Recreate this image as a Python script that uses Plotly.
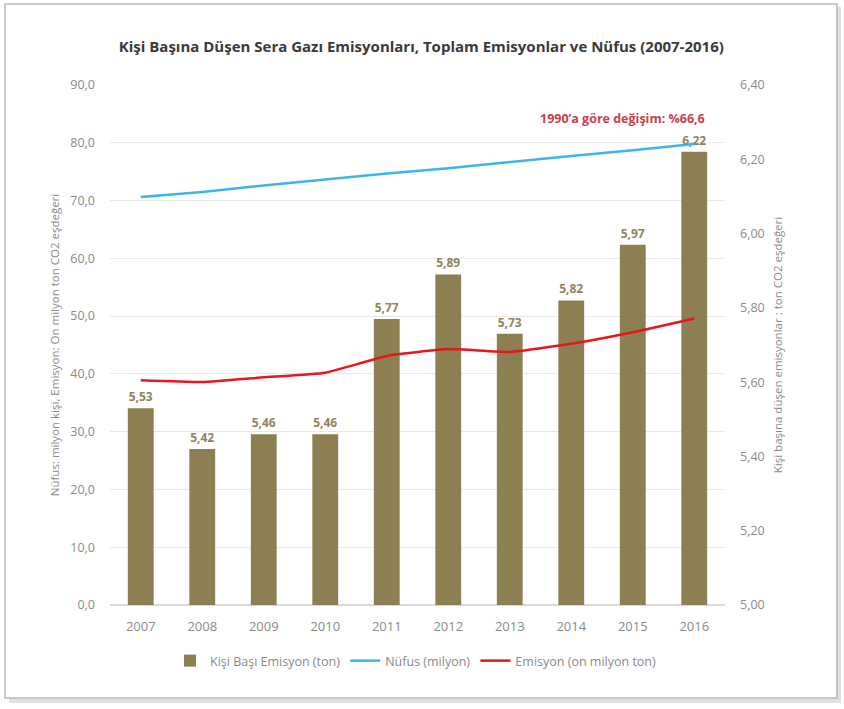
import plotly.graph_objects as go

# Data
years = ["2007", "2008", "2009", "2010", "2011", "2012", "2013", "2014", "2015", "2016"]
per_capita = [5.53, 5.42, 5.46, 5.46, 5.77, 5.89, 5.73, 5.82, 5.97, 6.22]      # ton CO2 eq / person
population = [70.6, 71.5, 72.6, 73.7, 74.7, 75.6, 76.7, 77.7, 78.7, 79.8]      # million
emissions = [38.9, 38.6, 39.4, 40.2, 43.1, 44.3, 43.8, 45.2, 47.2, 49.6]       # ten-million ton

W, H = 844, 709
L, R, T, B = 110, 119, 85, 104
PW, PH = W - L - R, H - T - B


def px_x(x):
    return (x - L) / PW


def px_y(y):
    return (H - B - y) / PH


OLIVE = "#8C7F52"
BLUE = "#3DB5E8"
RED = "#E8151B"
GRAY = "#8a8a8a"
FONT = "Open Sans"

fig = go.Figure()

fig.add_trace(go.Bar(
    x=years, y=per_capita, yaxis="y", name="Kişi Başı Emisyon (ton)",
    marker=dict(color=OLIVE, line=dict(width=0)), width=0.42,
    text=[f"{v:.2f}".replace(".", ",") for v in per_capita],
    textposition="outside", cliponaxis=False,
    textfont=dict(family=FONT, size=12, color="#8f845e", weight="bold"),
))
fig.add_trace(go.Scatter(
    x=years, y=population, yaxis="y2", name="Nüfus (milyon)", mode="lines",
    line=dict(color=BLUE, width=2.5),
))
fig.add_trace(go.Scatter(
    x=years, y=emissions, yaxis="y2", name="Emisyon (on milyon ton)", mode="lines",
    line=dict(color=RED, width=2.5, shape="spline", smoothing=0.4),
))

# Frame with a soft shadow
shapes = [
    dict(type="rect", xref="paper", yref="paper",
         x0=px_x(9), x1=px_x(841), y0=px_y(703), y1=px_y(7),
         line=dict(width=0), fillcolor="rgba(0,0,0,0.12)", layer="below"),
    dict(type="rect", xref="paper", yref="paper",
         x0=px_x(5), x1=px_x(837), y0=px_y(698), y1=px_y(4),
         line=dict(color="#b8b8b8", width=1.5), fillcolor="white", layer="below"),
]

fig.update_layout(
    width=W, height=H,
    margin=dict(l=L, r=R, t=T, b=B),
    paper_bgcolor="white", plot_bgcolor="rgba(0,0,0,0)",
    separators=",.",
    font=dict(family=FONT, size=12, color=GRAY),
    showlegend=True,
    legend=dict(orientation="h", x=px_x(416), xanchor="center", y=px_y(661), yanchor="middle",
                font=dict(family=FONT, size=12.5, color=GRAY), itemwidth=30,
                traceorder="normal"),
    title=dict(text="Kişi Başına Düşen Sera Gazı Emisyonları, Toplam Emisyonlar ve Nüfus (2007-2016)",
               x=px_x(417), xanchor="center", y=1 - 47 / H, yanchor="middle",
               font=dict(family=FONT, size=15, color="#3a3a3a", weight="bold")),
    xaxis=dict(type="category", showgrid=False, showline=False, ticks="",
               ticklabelstandoff=12, tickfont=dict(size=13, color=GRAY)),
    yaxis=dict(side="right", range=[5.0, 6.4], tickvals=[5.0, 5.2, 5.4, 5.6, 5.8, 6.0, 6.2, 6.4],
               tickformat=".2f", showgrid=False, zeroline=False, showline=False,
               ticklabelstandoff=14, tickfont=dict(size=12.5, color=GRAY),
               title=dict(text="Kişi başına düşen emisyonlar : ton CO2 eşdeğeri",
                          font=dict(size=11.5, color=GRAY), standoff=10)),
    yaxis2=dict(side="left", overlaying="y", range=[0, 90], tickvals=list(range(0, 91, 10)),
                tickformat=".1f", showgrid=True, gridcolor="#e8e8e8", gridwidth=1,
                zeroline=True, zerolinecolor="#d9d9d9", showline=False,
                ticklabelstandoff=14, tickfont=dict(size=12.5, color=GRAY),
                title=dict(text="Nüfus: milyon kişi, Emisyon: On milyon ton CO2 eşdeğeri",
                           font=dict(size=11.5, color=GRAY), standoff=8)),
    shapes=shapes,
    annotations=[dict(text="1990’a göre değişim: %66,6", xref="paper", yref="paper",
                      x=px_x(707), xanchor="right", y=px_y(118), yanchor="middle",
                      showarrow=False,
                      font=dict(family=FONT, size=12.5, color="#C8414B", weight="bold"))],
)

fig.write_html("out.html")
